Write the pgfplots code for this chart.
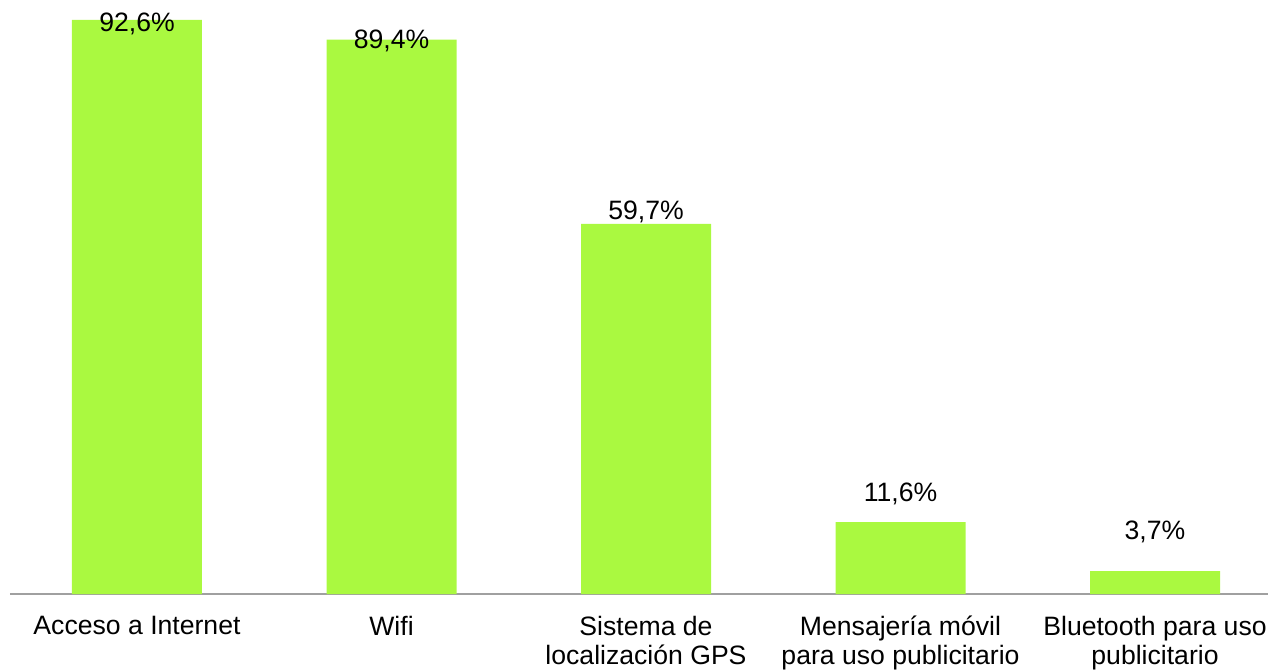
\documentclass[border=0pt]{standalone}
\usepackage{fontspec}
\setmainfont{Liberation Sans}
\usepackage{pgfplots}
\pgfplotsset{compat=1.18}
\usepackage{pgfplotstable}

\definecolor{barra}{HTML}{AAF940}
\definecolor{eje}{HTML}{A0A0A0}

% x, valor, desplazamiento de la etiqueta (pt)
\pgfplotstableread{
x y off
0 92.6 -2
1 89.4 -0.5
2 59.7 6
3 11.6 14
4 3.7 19.5
}\datos

\begin{document}
\begin{tikzpicture}
\useasboundingbox (0,-37.5pt) rectangle (634pt,297pt);
\begin{axis}[
    at={(5pt,0pt)}, anchor=south west,
    scale only axis,
    width=629pt, height=297pt,
    xmin=-0.499, xmax=4.444,
    ymin=0, ymax=95.8,
    axis x line*=bottom,
    axis y line=none,
    x axis line style={eje, line width=0.8pt, -},
    xtick={0,1,2,3,4},
    xticklabels={Acceso a Internet, Wifi, Sistema de\\localización GPS,
        Mensajería móvil\\para uso publicitario, Bluetooth para uso\\publicitario},
    major tick length=0pt,
    xticklabel shift=7.5pt,
    xticklabel style={align=center, font=\fontsize{13.3}{14.6}\selectfont},
    ybar, bar width=65pt,
    /pgf/number format/assume math mode=true,
    point meta=explicit,
    visualization depends on={\thisrow{off} \as \myoff},
    nodes near coords={\pgfmathprintnumber[use comma,fixed,fixed zerofill,precision=1,assume math mode=true]{\pgfplotspointmeta}\%},
    every node near coord/.append style={anchor=center, yshift=\myoff pt, font=\fontsize{13.3}{15}\selectfont, black},
]
\addplot[fill=barra, draw=none] table[x=x, y=y, meta=y] {\datos};
\end{axis}
\end{tikzpicture}
\end{document}
